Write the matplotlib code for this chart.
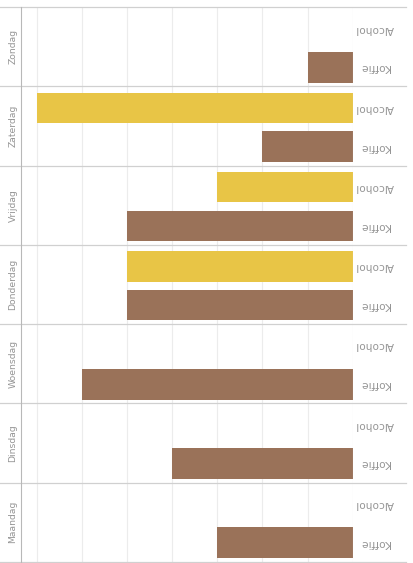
import matplotlib
matplotlib.use("Agg")
import matplotlib.pyplot as plt

days = ["Zondag", "Zaterdag", "Vrijdag", "Donderdag", "Woensdag", "Dinsdag", "Maandag"]
drinks = ["Alcohol", "Koffie"]
alcohol = [0, 7, 3, 5, 0, 0, 0]
koffie = [1, 2, 5, 5, 6, 4, 3]

colors = {"Alcohol": "#E8C546", "Koffie": "#9A7259"}
text_color = "#959595"

W, H = 414, 563
fig = plt.figure(figsize=(W / 100, H / 100), dpi=100)

left_px, right_px = 21.3, 352.7
top_px, bottom_px = 7.3, 561.7
ax = fig.add_axes([left_px / W, 1 - bottom_px / H,
                   (right_px - left_px) / W, (bottom_px - top_px) / H])

unit_px = 45.1
ax.set_xlim(0, (right_px - left_px) / unit_px)
ax.invert_xaxis()
ax.set_ylim(2 * len(days), 0)

offsets = {"Alcohol": 0.54, "Koffie": 1.52}
values = {"Alcohol": alcohol, "Koffie": koffie}
for drink in drinks:
    ys = [2 * i + offsets[drink] for i in range(len(days))]
    ax.barh(ys, values[drink], height=0.77, color=colors[drink], zorder=3)

# vertical grid
for v in range(1, 8):
    ax.axvline(v, color="#ececec", lw=0.8, zorder=1)
ax.axvline(0, color="#dcdcdc", lw=0.8, zorder=4)

# panel separators spanning the label columns
xmin = -left_px / (right_px - left_px)
xmax = (406 - left_px) / (right_px - left_px)
for i in range(len(days) + 1):
    ax.axhline(2 * i, xmin=xmin, xmax=xmax, color="#d0d0d0", lw=0.9,
               clip_on=False, zorder=2)

for s in ax.spines.values():
    s.set_visible(False)
ax.spines["left"].set_visible(True)
ax.spines["left"].set_color("#b8b8b8")
ax.spines["left"].set_linewidth(0.8)
ax.set_xticks([])
ax.set_yticks([])

# day labels (rotated) on the left, drink labels (upside down) on the right
for i, d in enumerate(days):
    ax.text(-0.025, (2 * i + 1), d, transform=ax.get_yaxis_transform(),
            rotation=90, ha="center", va="center", fontsize=6.7, color=text_color)
    for drink in drinks:
        ax.text(1.066, 2 * i + offsets[drink], drink,
                transform=ax.get_yaxis_transform(), rotation=180,
                ha="center", va="center", fontsize=7.6, color=text_color)

fig.savefig("out.png", dpi=100)
